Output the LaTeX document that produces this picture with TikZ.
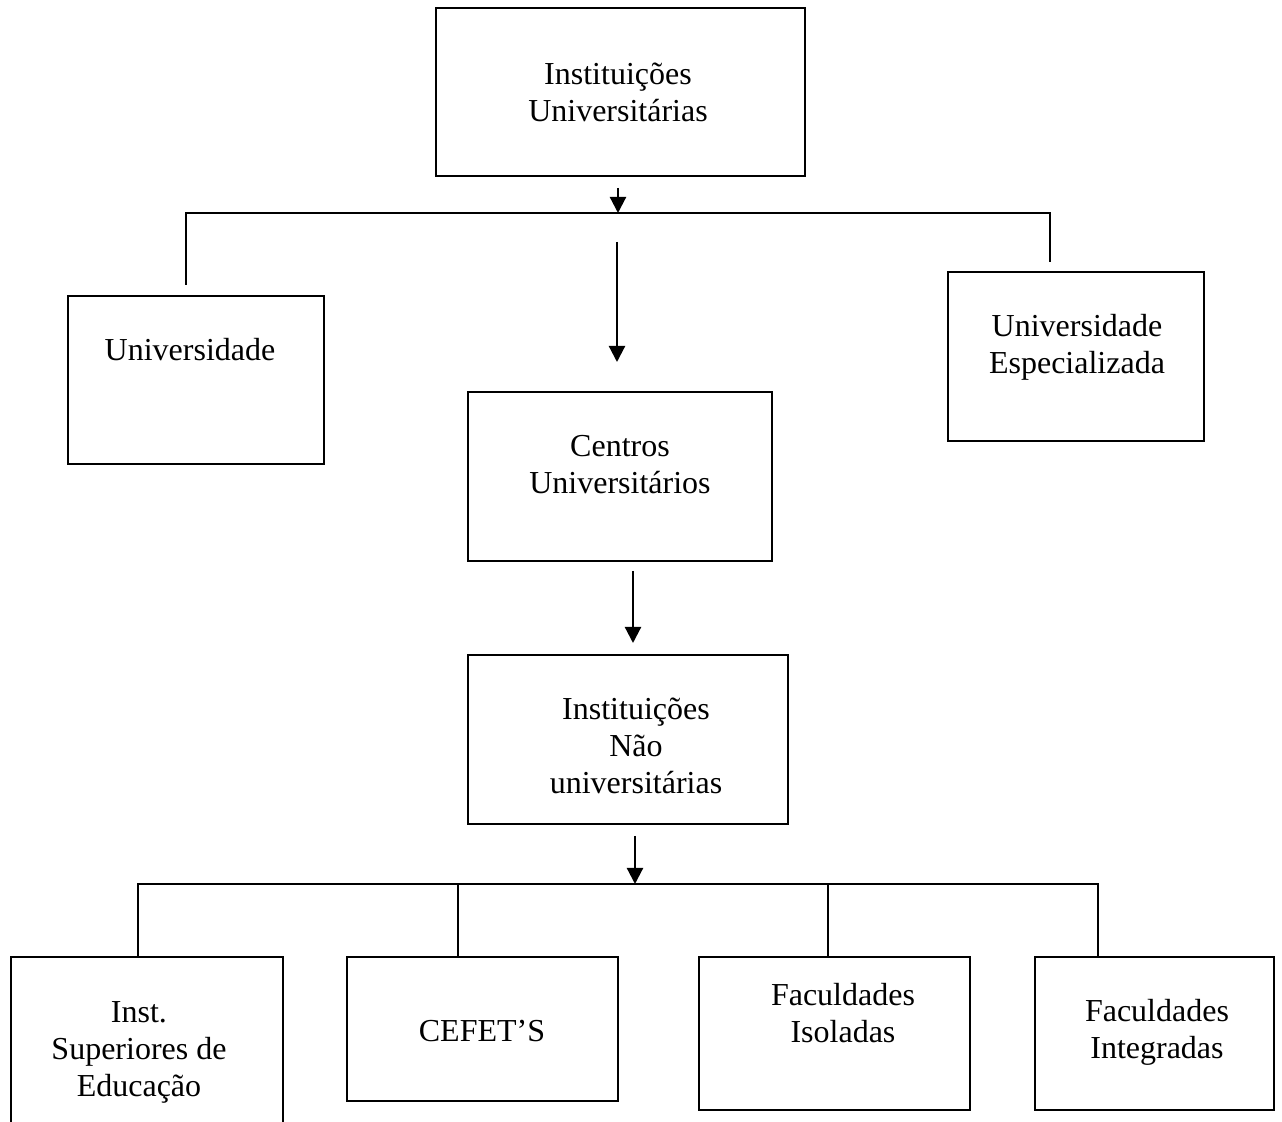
\documentclass[tikz,border=0pt]{standalone}
\usepackage{fontspec}
\setmainfont{Liberation Serif}
\usetikzlibrary{arrows.meta,calc}
\tikzset{
  box/.style={draw, line width=1.1pt, rectangle, inner sep=0pt},
  lbl/.style={anchor=base, align=center, inner sep=0pt,
              font=\fontsize{16}{18.5}\selectfont},
  link/.style={line width=1.1pt},
  arr/.style={line width=1.1pt, -{Triangle[width=8pt,length=8pt]}}
}
\begin{document}
\begin{tikzpicture}[x=0.5pt, y=-0.5pt]
  \useasboundingbox (0,0) rectangle (1282,1122);
  \clip (0,0) rectangle (1282,1122);

  % boxes
  \node[box, minimum width=184.5pt, minimum height=84pt]   (top)    at (620.5,92)    {};
  \node[box, minimum width=128pt,   minimum height=84pt]   (univ)   at (196,380)     {};
  \node[box, minimum width=128pt,   minimum height=84.5pt] (espec)  at (1076,356.5)  {};
  \node[box, minimum width=152pt,   minimum height=84.5pt] (centros) at (620,476.5)  {};
  \node[box, minimum width=160pt,   minimum height=84.5pt] (nao)    at (628,739.5)   {};
  \node[box, minimum width=136pt,   minimum height=90pt]   (inst)   at (147,1047)    {};
  \node[box, minimum width=135.5pt, minimum height=72pt]   (cefet)  at (482.5,1029)  {};
  \node[box, minimum width=135.5pt, minimum height=76.5pt] (isol)   at (834.5,1033.5) {};
  \node[box, minimum width=119.5pt, minimum height=76.5pt] (integ)  at (1154.5,1033.5) {};

  % texts (anchored at the baseline of the last line)
  \node[lbl] (ttop)    at (618,122)  {Instituições\\Universitárias};
  \node[lbl] (tuniv)   at (190,361)  {Universidade};
  \node[lbl] (tespec)  at (1077,374) {Universidade\\Especializada};
  \node[lbl] (tcentros) at (620,494) {Centros\\Universitários};
  \node[lbl] (tnao)    at (636,794)  {Instituições\\Não\\universitárias};
  \node[lbl] (tinst)   at (139,1097) {Inst.\\Superiores de\\Educação};
  \node[lbl] (tcefet)  at (482,1042) {CEFET’S};
  \node[lbl] (tisol)   at (843,1043) {Faculdades\\Isoladas};
  \node[lbl] (tinteg)  at (1157,1059) {Faculdades\\Integradas};

  % upper branching
  \coordinate (a1s) at (618,188);
  \coordinate (a1e) at (618,213);
  \coordinate (busL) at (186,213);
  \coordinate (busR) at (1050,213);
  \coordinate (dropL) at (186,285);
  \coordinate (dropR) at (1050,262);
  \draw[link] (dropL) -- (busL) -- (busR) -- (dropR);
  \draw[arr] (a1s) -- (a1e);

  % central arrows
  \coordinate (a2s) at (617,242);
  \coordinate (a2e) at (617,362);
  \draw[arr] (a2s) -- (a2e);
  \coordinate (a3s) at (633,571);
  \coordinate (a3e) at (633,643);
  \draw[arr] (a3s) -- (a3e);
  \coordinate (a4s) at (635,836);
  \coordinate (a4e) at (635,884);
  \draw[arr] (a4s) -- (a4e);

  % lower branching
  \coordinate (b1) at (138,884);
  \coordinate (b2) at (458,884);
  \coordinate (b3) at (828,884);
  \coordinate (b4) at (1098,884);
  \draw[link] (b1 |- inst.north) -- (b1) -- (b4) -- (b4 |- integ.north);
  \draw[link] (b2) -- (b2 |- cefet.north);
  \draw[link] (b3) -- (b3 |- isol.north);
\end{tikzpicture}
\end{document}
